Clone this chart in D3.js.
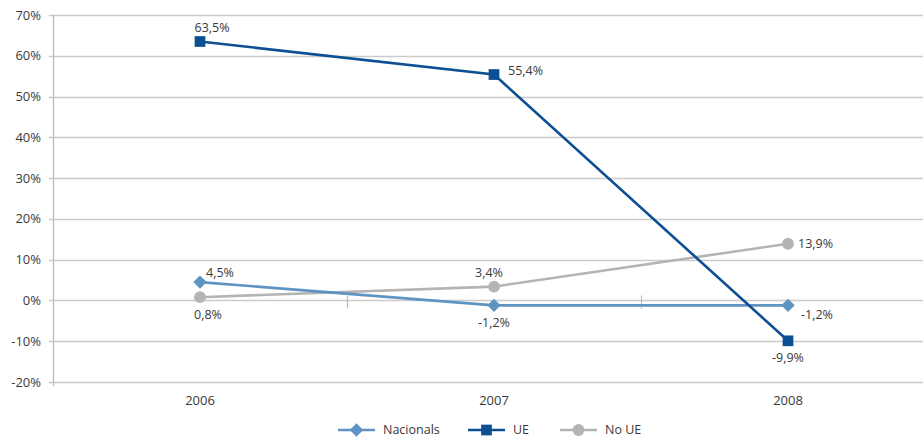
<!DOCTYPE html>
<html><head><meta charset="utf-8">
<script src="https://cdn.jsdelivr.net/npm/d3@7/dist/d3.min.js"></script>
<style>
body{margin:0;background:#fff;}
text{font-family:"Open Sans",sans-serif;fill:#3a3a3a;}
</style></head>
<body><svg id="c" width="923" height="438"></svg>
<script>
const categories = ["2006", "2007", "2008"];
const seriesNames = ["Nacionals", "UE", "No UE"];
const nacionals = [4.5, -1.2, -1.2];
const ue = [63.5, 55.4, -9.9];
const noUe = [0.8, 3.4, 13.9];
const yTicks = [-20, -10, 0, 10, 20, 30, 40, 50, 60, 70];
// label placements (style only)
const placeNacionals = ["aboveRight", "below", "belowRight"];
const placeUe = ["aboveShift", "rightFar", "below"];
const placeNoUe = ["belowShift", "above", "right"];

const svg = d3.select("#c");
const x0 = 53, x1 = 935, yTop = 15, yBot = 382;
const x = d3.scaleBand().domain(categories).range([x0, x1]);
const y = d3.scaleLinear().domain([-20, 70]).range([yBot, yTop]);
const cx = c => x(c) + x.bandwidth() / 2;
const fmt = v => v.toFixed(1).replace(".", ",") + "%";

// gridlines
svg.append("g").selectAll("line").data(yTicks).join("line")
  .attr("x1", x0 - 4).attr("x2", 923)
  .attr("y1", d => Math.round(y(d)) + 0.5).attr("y2", d => Math.round(y(d)) + 0.5)
  .attr("stroke", "#cbcbcb").attr("stroke-width", 1.3);
// y axis line
svg.append("line").attr("x1", x0 + 0.5).attr("x2", x0 + 0.5)
  .attr("y1", yTop).attr("y2", yBot + 4).attr("stroke", "#bdbdbd").attr("stroke-width", 1.3);
// y labels
svg.append("g").selectAll("text").data(yTicks).join("text")
  .attr("x", 41).attr("y", d => y(d)).attr("dy", "0.35em")
  .attr("text-anchor", "end").attr("font-size", 13).text(d => d + "%");
// x axis at 0 with category ticks
const y0 = Math.round(y(0)) + 0.5;
svg.append("g").selectAll("line").data(categories.slice(1)).join("line")
  .attr("x1", d => Math.round(x(d)) + 0.5).attr("x2", d => Math.round(x(d)) + 0.5)
  .attr("y1", y0 - 5).attr("y2", y0 + 8).attr("stroke", "#bdbdbd").attr("stroke-width", 1.2);
// x labels
svg.append("g").selectAll("text").data(categories).join("text")
  .attr("x", d => cx(d)).attr("y", 405).attr("text-anchor", "middle")
  .attr("font-size", 13).text(d => d);

const diamond = d3.symbol().type(d3.symbolSquare).size(90);
const series = [
  {name: seriesNames[0], vals: nacionals, color: "#5f94c2", shape: d3.symbolSquare, size: 90, rot: 45, place: placeNacionals},
  {name: seriesNames[1], vals: ue, color: "#0c4f92", shape: d3.symbolSquare, size: 115, rot: 0, place: placeUe},
  {name: seriesNames[2], vals: noUe, color: "#b4b4b4", shape: d3.symbolCircle, size: 110, rot: 0, place: placeNoUe}
];
const line = d3.line().x((d, i) => cx(categories[i])).y(d => y(d));
const drawOrder = [2, 0, 1];
drawOrder.forEach(k => {
  const s = series[k];
  svg.append("path").attr("d", line(s.vals)).attr("fill", "none")
    .attr("stroke", s.color).attr("stroke-width", 2.6);
});
drawOrder.forEach(k => {
  const s = series[k];
  const sym = d3.symbol().type(s.shape).size(s.size);
  svg.append("g").selectAll("path").data(s.vals).join("path")
    .attr("d", sym)
    .attr("transform", (d, i) => `translate(${cx(categories[i])},${y(d)}) rotate(${s.rot})`)
    .attr("fill", s.color);
});
const offsets = {
  above: [-5, -14, "middle"], below: [0, 17, "middle"], right: [10, 0, "start"],
  rightFar: [14, -4, "start"], aboveShift: [12, -14, "middle"], belowShift: [8, 17, "middle"],
  aboveRight: [6, -9, "start"], belowRight: [13, 9, "start"]
};
series.forEach(s => {
  svg.append("g").selectAll("text").data(s.vals).join("text")
    .attr("x", (d, i) => cx(categories[i]) + offsets[s.place[i]][0])
    .attr("y", (d, i) => y(d) + offsets[s.place[i]][1])
    .attr("dy", "0.35em")
    .attr("text-anchor", (d, i) => offsets[s.place[i]][2])
    .attr("font-size", 12.5).text(d => fmt(d));
});

// legend
const legX = [338, 468, 560];
const lg = svg.append("g");
series.forEach((s, i) => {
  const g = lg.append("g").attr("transform", `translate(${legX[i]},430)`);
  g.append("line").attr("x1", 0).attr("x2", 37).attr("stroke", s.color).attr("stroke-width", 2.6);
  g.append("path").attr("d", d3.symbol().type(s.shape).size(s.size)).attr("transform", `translate(18.5,0) rotate(${s.rot})`).attr("fill", s.color);
  g.append("text").attr("x", 45).attr("dy", "0.32em").attr("font-size", 12.5).text(s.name);
});
</script></body></html>
